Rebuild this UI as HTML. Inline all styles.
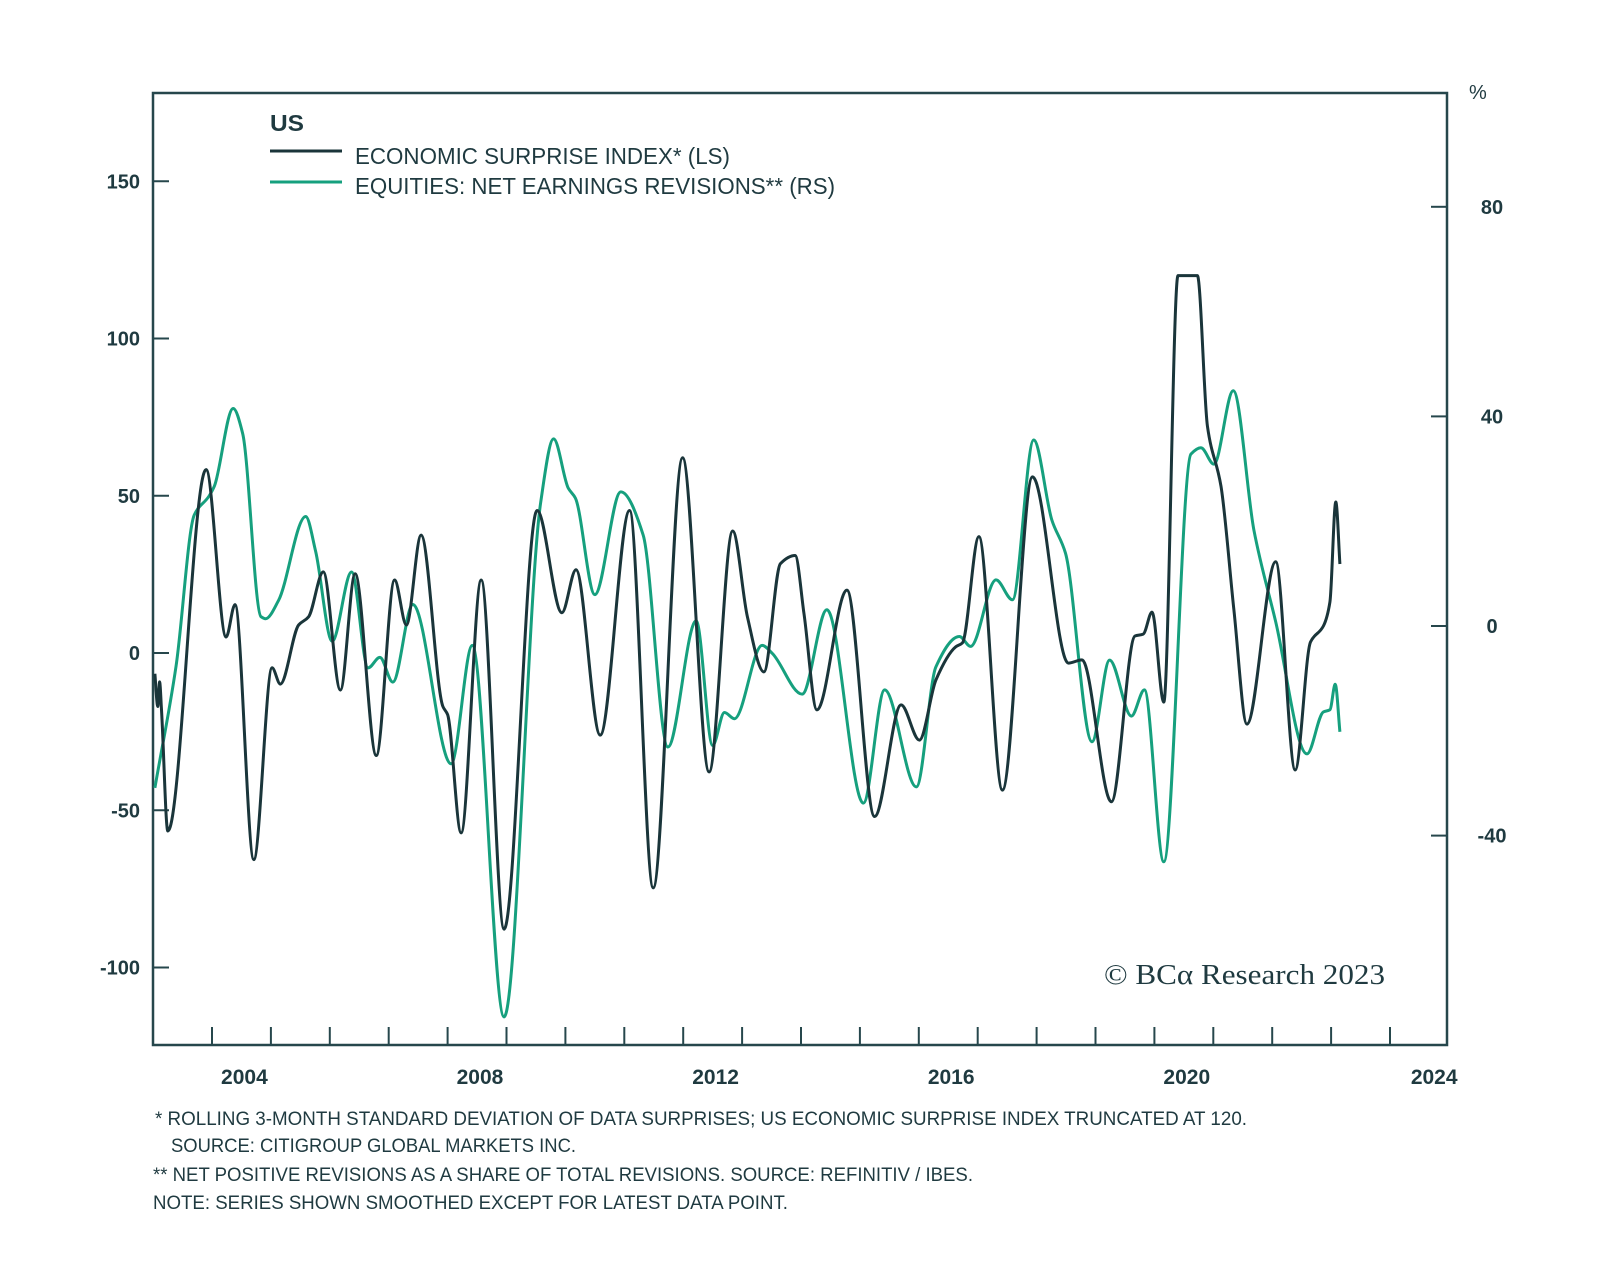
<!DOCTYPE html>
<html><head><meta charset="utf-8"><style>
html,body{margin:0;padding:0;background:#fff;}
svg{display:block;}
</style></head><body>
<svg id="chart" width="1600" height="1268" viewBox="0 0 1600 1268" xmlns="http://www.w3.org/2000/svg">
<rect x="0" y="0" width="1600" height="1268" fill="#fff"/>
<g id="grid"></g>
<g id="series"></g>
<g id="labels" font-family="'Liberation Sans', sans-serif" fill="#1f3a40"></g>
</svg>
<script>
// ---- data ----
const esiYears = [2003.03,2003.08,2003.11,2003.14,2003.25,2003.9,2004.24,2004.39,2004.71,2005.02,2005.16,2005.47,2005.64,2005.89,2006.18,2006.43,2006.79,2007.1,2007.3,2007.55,2007.92,2008.0,2008.23,2008.57,2008.96,2009.52,2009.94,2010.18,2010.59,2011.09,2011.49,2011.99,2012.44,2012.84,2013.09,2013.37,2013.65,2013.9,2014.05,2014.27,2014.78,2015.25,2015.7,2016.01,2016.29,2016.63,2016.74,2017.02,2017.42,2017.93,2018.54,2018.77,2019.27,2019.67,2019.81,2019.96,2020.16,2020.4,2020.73,2020.9,2021.13,2021.35,2021.57,2022.06,2022.39,2022.65,2022.87,2022.98,2023.08,2023.15];
const esiValues = [-6.6,-17,-9.2,-17,-56.6,58.3,5.1,15.4,-65.7,-4.7,-9.9,8.9,11.5,25.8,-11.8,25.2,-32.6,23.2,8.9,37.5,-17,-19.6,-57.2,23.2,-87.8,45.3,12.8,26.5,-26.1,45.3,-74.7,62.1,-37.8,38.8,11.5,-6,28.4,31,12.7,-18.1,20,-52,-16.5,-27.7,-8.6,2,3.2,37,-43.6,56,-3.2,-2.2,-47.3,5.4,6,13,-15.6,120,120,72.2,53,13.7,-22.6,29,-37.2,3.5,8.6,16.2,48,28.3];
const revYears = [2003.03,2003.39,2003.7,2003.95,2004.04,2004.36,2004.52,2004.83,2004.91,2005.13,2005.59,2005.76,2006.04,2006.37,2006.65,2006.85,2007.07,2007.41,2008.06,2008.42,2008.96,2009.58,2009.8,2010.05,2010.17,2010.5,2010.94,2011.32,2011.74,2012.22,2012.5,2012.7,2012.87,2013.34,2013.51,2014.02,2014.44,2015.06,2015.42,2015.96,2016.29,2016.69,2016.88,2017.31,2017.59,2017.95,2018.26,2018.49,2018.94,2019.24,2019.61,2019.83,2020.16,2020.62,2020.79,2021.01,2021.34,2021.69,2022.06,2022.59,2022.87,2022.98,2023.07,2023.15];
const revValues = [-30.9,-7.6,21.2,24.8,26.7,41.5,36.8,1.8,1.4,4.9,20.9,14.2,-2.9,10.3,-8,-6,-10.7,4.1,-26.3,-3.7,-74.6,23.6,35.7,26.3,24.4,6,25.6,17.4,-23.1,1,-22.8,-16.5,-17.7,-3.7,-5.2,-13,3.1,-33.8,-12.2,-30.7,-7.8,-2,-3.9,8.8,5,35.5,20.2,13.9,-22.1,-6.5,-17.2,-12.2,-45,32.8,34,30.9,44.9,18.3,0.8,-24.4,-16.4,-16,-11.1,-20.2];
const leftTicks = [150,100,50,0,-50,-100];
const rightTicks = [80,40,0,-40];
const yearLabels = [2004,2008,2012,2016,2020,2024];
const yearTicks = [2004,2005,2006,2007,2008,2009,2010,2011,2012,2013,2014,2015,2016,2017,2018,2019,2020,2021,2022,2023,2024];

// ---- axes ----
const L=153,R=1447,T=93,B=1045;
function xs(yr){return 212+58.9*(yr-2004);}
function yl(v){return 653-v*3.145;}
function yr(v){return 626-v*5.24;}
const NS="http://www.w3.org/2000/svg";
function mk(tag,attrs,parent){const e=document.createElementNS(NS,tag);for(const k in attrs)e.setAttribute(k,attrs[k]);parent.appendChild(e);return e;}
const grid=document.getElementById('grid'),ser=document.getElementById('series'),lab=document.getElementById('labels');
const AX="#26474c";

const frame=mk('rect',{x:L,y:T,width:R-L,height:B-T,fill:'none',stroke:AX,'stroke-width':2.5},grid);



leftTicks.forEach(v=>{
  const t=mk('line',{x1:L,x2:L+16,y1:yl(v),y2:yl(v),stroke:AX,'stroke-width':2},grid);
  
  
  const tx=mk('text',{x:140,y:yl(v)+7,'text-anchor':'end','font-size':20,'font-weight':'bold'},lab);
  tx.textContent=String(v);
  
  
});
rightTicks.forEach(v=>{
  const t=mk('line',{x1:R-16,x2:R,y1:yr(v),y2:yr(v),stroke:AX,'stroke-width':2},grid);
  
  
  const tx=mk('text',{x:1492,y:yr(v)+7,'text-anchor':'middle','font-size':20,'font-weight':'bold'},lab);
  tx.textContent=String(v);
  
  
});
yearTicks.forEach(y=>{
  const t=mk('line',{x1:xs(y),x2:xs(y),y1:B-18,y2:B,stroke:AX,'stroke-width':2},grid);
  
  
});
yearLabels.forEach(y=>{
  const off = (y===2024)?0.75:0.55;
  const tx=mk('text',{x:xs(y+off),y:1084,'text-anchor':'middle','font-size':21,'font-weight':'bold'},lab);
  tx.textContent=String(y);
  
  
});

// monotone cubic path (Fritsch-Butland)
function path(xsA,ysA){
  const n=xsA.length,d=[],h=[],m=[];
  for(let i=0;i<n-1;i++){h.push(xsA[i+1]-xsA[i]);d.push((ysA[i+1]-ysA[i])/h[i]);}
  m[0]=d[0];m[n-1]=d[n-2];
  for(let i=1;i<n-1;i++){
    if(d[i-1]*d[i]<=0){m[i]=0;}
    else{const h0=h[i-1],h1=h[i];m[i]=3*(h0+h1)/((2*h1+h0)/d[i-1]+(h1+2*h0)/d[i]);}
  }
  let p='M'+xsA[0].toFixed(1)+','+ysA[0].toFixed(1);
  for(let i=0;i<n-1;i++){const q=h[i]/3;
    p+=' C'+(xsA[i]+q).toFixed(1)+','+(ysA[i]+m[i]*q).toFixed(1)+' '+(xsA[i+1]-q).toFixed(1)+','+(ysA[i+1]-m[i+1]*q).toFixed(1)+' '+xsA[i+1].toFixed(1)+','+ysA[i+1].toFixed(1);}
  return p;
}
const g=mk('path',{d:path(revYears.map(xs),revValues.map(yr)),fill:'none',stroke:'#16a07e','stroke-width':3,'stroke-linejoin':'round'},ser);


const e=mk('path',{d:path(esiYears.map(xs),esiValues.map(yl)),fill:'none',stroke:'#1a353a','stroke-width':3,'stroke-linejoin':'round'},ser);


</script>
<svg style="position:absolute;left:0;top:0" width="1600" height="1268" xmlns="http://www.w3.org/2000/svg">
<g fill="#1f3a40" font-family="'Liberation Sans Narrow','Liberation Sans',sans-serif">
<text x="1469" y="99" font-size="20" font-family="'Liberation Sans',sans-serif">%</text>
<text x="270" y="131" font-size="23" font-weight="bold" textLength="34" lengthAdjust="spacingAndGlyphs">US</text>
<line x1="270" x2="342" y1="151" y2="151" stroke="#1a353a" stroke-width="3"/>
<text x="355" y="164" font-size="23" textLength="375" lengthAdjust="spacingAndGlyphs">ECONOMIC SURPRISE INDEX* (LS)</text>
<line x1="270" x2="342" y1="182" y2="182" stroke="#16a07e" stroke-width="3"/>
<text x="355" y="194" font-size="23" textLength="480" lengthAdjust="spacingAndGlyphs">EQUITIES: NET EARNINGS REVISIONS** (RS)</text>
<text x="1104" y="984" font-size="28" font-family="'Liberation Serif',serif" textLength="281" lengthAdjust="spacingAndGlyphs">© BCα Research 2023</text>
<text x="155" y="1125" font-size="19" textLength="1092" lengthAdjust="spacingAndGlyphs">*  ROLLING 3-MONTH STANDARD DEVIATION OF DATA SURPRISES; US ECONOMIC SURPRISE INDEX TRUNCATED AT 120.</text>
<text x="171" y="1152" font-size="19" textLength="405" lengthAdjust="spacingAndGlyphs">SOURCE: CITIGROUP GLOBAL MARKETS INC.</text>
<text x="153" y="1181" font-size="19" textLength="820" lengthAdjust="spacingAndGlyphs">** NET POSITIVE REVISIONS AS A SHARE OF TOTAL REVISIONS. SOURCE: REFINITIV / IBES.</text>
<text x="153" y="1209" font-size="19" textLength="635" lengthAdjust="spacingAndGlyphs">NOTE: SERIES SHOWN SMOOTHED EXCEPT FOR LATEST DATA POINT.</text>
</g>
</svg>
</body></html>
